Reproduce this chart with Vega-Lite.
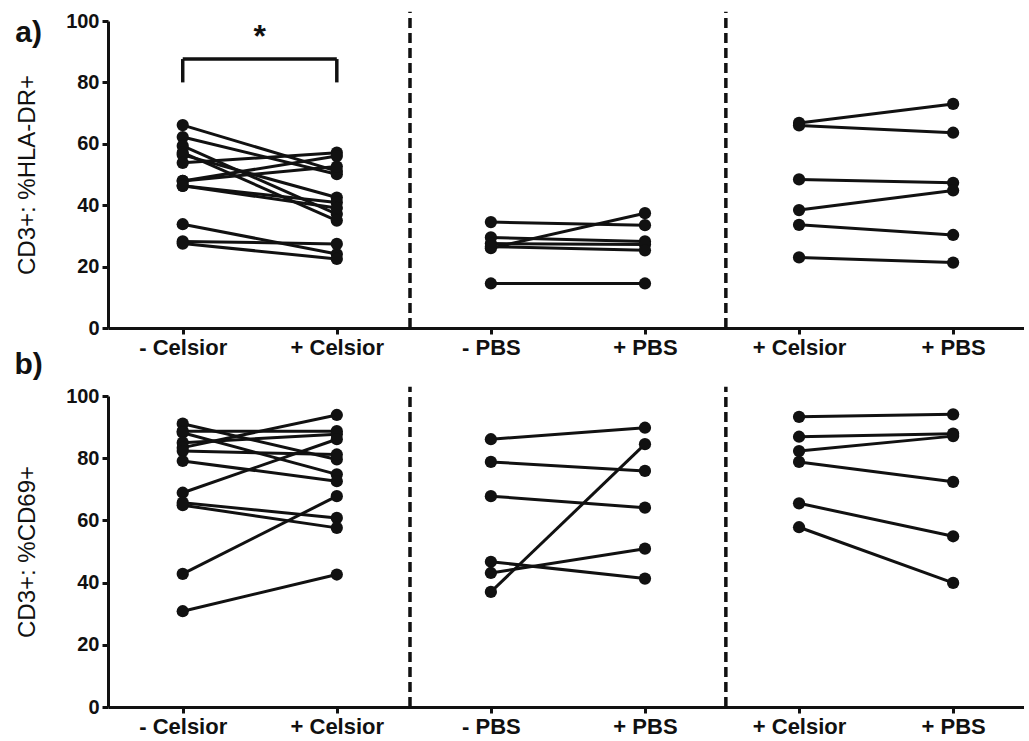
{
  "$schema": "https://vega.github.io/schema/vega-lite/v6.json",
  "padding": {"left": 14, "top": 10, "right": 0, "bottom": 5},
  "background": "white",
  "bounds": "flush",
  "spacing": 68,
  "datasets": {
    "hla": [
      {"id": "c1", "pos": 1, "v": 66.1}, {"id": "c1", "pos": 2, "v": 51.1},
      {"id": "c2", "pos": 1, "v": 62.2}, {"id": "c2", "pos": 2, "v": 50.1},
      {"id": "c3", "pos": 1, "v": 59.3}, {"id": "c3", "pos": 2, "v": 37.1},
      {"id": "c4", "pos": 1, "v": 57.1}, {"id": "c4", "pos": 2, "v": 35.0},
      {"id": "c5", "pos": 1, "v": 56.4}, {"id": "c5", "pos": 2, "v": 42.5},
      {"id": "c6", "pos": 1, "v": 53.8}, {"id": "c6", "pos": 2, "v": 57.1},
      {"id": "c7", "pos": 1, "v": 47.9}, {"id": "c7", "pos": 2, "v": 56.0},
      {"id": "c8", "pos": 1, "v": 47.9}, {"id": "c8", "pos": 2, "v": 52.6},
      {"id": "c9", "pos": 1, "v": 46.3}, {"id": "c9", "pos": 2, "v": 40.9},
      {"id": "c10", "pos": 1, "v": 46.3}, {"id": "c10", "pos": 2, "v": 39.1},
      {"id": "c11", "pos": 1, "v": 33.8}, {"id": "c11", "pos": 2, "v": 24.1},
      {"id": "c12", "pos": 1, "v": 28.2}, {"id": "c12", "pos": 2, "v": 27.4},
      {"id": "c13", "pos": 1, "v": 27.5}, {"id": "c13", "pos": 2, "v": 22.5},
      {"id": "p1", "pos": 3, "v": 34.5}, {"id": "p1", "pos": 4, "v": 33.5},
      {"id": "p2", "pos": 3, "v": 26.0}, {"id": "p2", "pos": 4, "v": 37.4},
      {"id": "p3", "pos": 3, "v": 29.5}, {"id": "p3", "pos": 4, "v": 28.2},
      {"id": "p4", "pos": 3, "v": 27.5}, {"id": "p4", "pos": 4, "v": 27.2},
      {"id": "p5", "pos": 3, "v": 26.5}, {"id": "p5", "pos": 4, "v": 25.3},
      {"id": "p6", "pos": 3, "v": 14.5}, {"id": "p6", "pos": 4, "v": 14.5},
      {"id": "q1", "pos": 5, "v": 66.8}, {"id": "q1", "pos": 6, "v": 73.0},
      {"id": "q2", "pos": 5, "v": 66.0}, {"id": "q2", "pos": 6, "v": 63.6},
      {"id": "q3", "pos": 5, "v": 48.4}, {"id": "q3", "pos": 6, "v": 47.3},
      {"id": "q4", "pos": 5, "v": 38.4}, {"id": "q4", "pos": 6, "v": 44.8},
      {"id": "q5", "pos": 5, "v": 33.6}, {"id": "q5", "pos": 6, "v": 30.3},
      {"id": "q6", "pos": 5, "v": 23.0}, {"id": "q6", "pos": 6, "v": 21.3}
    ],
    "cd69": [
      {"id": "d1", "pos": 1, "v": 91.1}, {"id": "d1", "pos": 2, "v": 79.6},
      {"id": "d2", "pos": 1, "v": 88.7}, {"id": "d2", "pos": 2, "v": 88.7},
      {"id": "d3", "pos": 1, "v": 88.2}, {"id": "d3", "pos": 2, "v": 74.8},
      {"id": "d4", "pos": 1, "v": 85.0}, {"id": "d4", "pos": 2, "v": 87.7},
      {"id": "d5", "pos": 1, "v": 83.4}, {"id": "d5", "pos": 2, "v": 93.9},
      {"id": "d6", "pos": 1, "v": 82.3}, {"id": "d6", "pos": 2, "v": 81.2},
      {"id": "d7", "pos": 1, "v": 79.1}, {"id": "d7", "pos": 2, "v": 72.6},
      {"id": "d8", "pos": 1, "v": 68.9}, {"id": "d8", "pos": 2, "v": 86.1},
      {"id": "d9", "pos": 1, "v": 65.7}, {"id": "d9", "pos": 2, "v": 60.8},
      {"id": "d10", "pos": 1, "v": 64.9}, {"id": "d10", "pos": 2, "v": 57.6},
      {"id": "d11", "pos": 1, "v": 42.8}, {"id": "d11", "pos": 2, "v": 67.8},
      {"id": "d12", "pos": 1, "v": 30.8}, {"id": "d12", "pos": 2, "v": 42.6},
      {"id": "e1", "pos": 3, "v": 86.1}, {"id": "e1", "pos": 4, "v": 89.8},
      {"id": "e2", "pos": 3, "v": 78.8}, {"id": "e2", "pos": 4, "v": 75.9},
      {"id": "e3", "pos": 3, "v": 67.8}, {"id": "e3", "pos": 4, "v": 64.1},
      {"id": "e4", "pos": 3, "v": 46.7}, {"id": "e4", "pos": 4, "v": 41.3},
      {"id": "e5", "pos": 3, "v": 43.1}, {"id": "e5", "pos": 4, "v": 50.9},
      {"id": "e6", "pos": 3, "v": 37.0}, {"id": "e6", "pos": 4, "v": 84.5},
      {"id": "f1", "pos": 5, "v": 93.3}, {"id": "f1", "pos": 6, "v": 94.1},
      {"id": "f2", "pos": 5, "v": 86.9}, {"id": "f2", "pos": 6, "v": 87.9},
      {"id": "f3", "pos": 5, "v": 82.3}, {"id": "f3", "pos": 6, "v": 87.1},
      {"id": "f4", "pos": 5, "v": 78.8}, {"id": "f4", "pos": 6, "v": 72.4},
      {"id": "f5", "pos": 5, "v": 65.5}, {"id": "f5", "pos": 6, "v": 54.9},
      {"id": "f6", "pos": 5, "v": 57.8}, {"id": "f6", "pos": 6, "v": 39.9}
    ],
    "dividers": [{"x": 2.475}, {"x": 4.525}],
    "one": [{"k": 1}]
  },
  "config": {
    "view": {"stroke": null},
    "font": "Liberation Sans",
    "axis": {
      "grid": false,
      "domainColor": "#111",
      "domainWidth": 3,
      "tickColor": "#111",
      "tickWidth": 3,
      "tickSize": 6,
      "labelColor": "#111",
      "labelFont": "Liberation Sans",
      "labelFontWeight": "bold",
      "titleFont": "Liberation Sans",
      "titleFontWeight": "normal",
      "titleColor": "#111"
    },
    "axisX": {"labelFontSize": 22, "labelPadding": 3, "labelFlush": false, "labelOverlap": false},
    "axisY": {"labelFontSize": 20, "labelPadding": 3, "titleFontSize": 24, "titlePadding": 26}
  },
  "vconcat": [
    {
      "width": 916,
      "height": 307,
      "layer": [
        {
          "data": {"name": "dividers"},
          "mark": {"type": "rule", "color": "#111", "strokeWidth": 3.5, "strokeDash": [10, 5]},
          "encoding": {
            "x": {"field": "x", "type": "quantitative", "scale": {"domain": [0.515, 6.46], "nice": false, "zero": false},
              "axis": {"values": [1, 2, 3, 4, 5, 6], "title": null, "labelExpr": "['','- Celsior','+ Celsior','- PBS','+ PBS','+ Celsior','+ PBS'][datum.value]"}},
            "y": {"datum": 0, "type": "quantitative", "scale": {"domain": [0, 100], "nice": false},
              "axis": {"values": [0, 20, 40, 60, 80, 100], "title": "CD3+: %HLA-DR+"}},
            "y2": {"datum": 103}
          }
        },
        {
          "data": {"name": "hla"},
          "mark": {"type": "line", "color": "#111", "strokeWidth": 3},
          "encoding": {
            "x": {"field": "pos", "type": "quantitative"},
            "y": {"field": "v", "type": "quantitative"},
            "detail": {"field": "id"}
          }
        },
        {
          "data": {"name": "hla"},
          "mark": {"type": "circle", "color": "#111", "opacity": 1, "size": 150},
          "encoding": {
            "x": {"field": "pos", "type": "quantitative"},
            "y": {"field": "v", "type": "quantitative"}
          }
        },
        {
          "data": {"name": "one"},
          "mark": {"type": "rule", "color": "#111", "strokeWidth": 3.5},
          "encoding": {"x": {"datum": 1}, "y": {"datum": 80}, "y2": {"datum": 87.6}}
        },
        {
          "data": {"name": "one"},
          "mark": {"type": "rule", "color": "#111", "strokeWidth": 3.5},
          "encoding": {"x": {"datum": 2}, "y": {"datum": 80}, "y2": {"datum": 87.6}}
        },
        {
          "data": {"name": "one"},
          "mark": {"type": "rule", "color": "#111", "strokeWidth": 3.5},
          "encoding": {"x": {"datum": 1}, "x2": {"datum": 2}, "y": {"datum": 87.6}}
        },
        {
          "data": {"name": "one"},
          "mark": {"type": "text", "text": "*", "font": "Liberation Sans", "fontWeight": "bold", "fontSize": 32, "color": "#111", "baseline": "alphabetic", "align": "center"},
          "encoding": {"x": {"datum": 1.5}, "y": {"datum": 91.5}}
        },
        {
          "data": {"name": "one"},
          "mark": {"type": "text", "text": "a)", "font": "Liberation Sans", "fontWeight": "bold", "fontSize": 30, "color": "#111", "baseline": "middle", "align": "center"},
          "encoding": {"x": {"datum": 0.0}, "y": {"datum": 96}}
        }
      ]
    },
    {
      "width": 916,
      "height": 311,
      "layer": [
        {
          "data": {"name": "dividers"},
          "mark": {"type": "rule", "color": "#111", "strokeWidth": 3.5, "strokeDash": [10, 5]},
          "encoding": {
            "x": {"field": "x", "type": "quantitative", "scale": {"domain": [0.515, 6.46], "nice": false, "zero": false},
              "axis": {"values": [1, 2, 3, 4, 5, 6], "title": null, "labelExpr": "['','- Celsior','+ Celsior','- PBS','+ PBS','+ Celsior','+ PBS'][datum.value]"}},
            "y": {"datum": 0, "type": "quantitative", "scale": {"domain": [0, 100], "nice": false},
              "axis": {"values": [0, 20, 40, 60, 80, 100], "title": "CD3+: %CD69+"}},
            "y2": {"datum": 103}
          }
        },
        {
          "data": {"name": "cd69"},
          "mark": {"type": "line", "color": "#111", "strokeWidth": 3},
          "encoding": {
            "x": {"field": "pos", "type": "quantitative"},
            "y": {"field": "v", "type": "quantitative"},
            "detail": {"field": "id"}
          }
        },
        {
          "data": {"name": "cd69"},
          "mark": {"type": "circle", "color": "#111", "opacity": 1, "size": 150},
          "encoding": {
            "x": {"field": "pos", "type": "quantitative"},
            "y": {"field": "v", "type": "quantitative"}
          }
        },
        {
          "data": {"name": "one"},
          "mark": {"type": "text", "text": "b)", "font": "Liberation Sans", "fontWeight": "bold", "fontSize": 30, "color": "#111", "baseline": "middle", "align": "center"},
          "encoding": {"x": {"datum": 0.0}, "y": {"datum": 110}}
        }
      ]
    }
  ]
}
